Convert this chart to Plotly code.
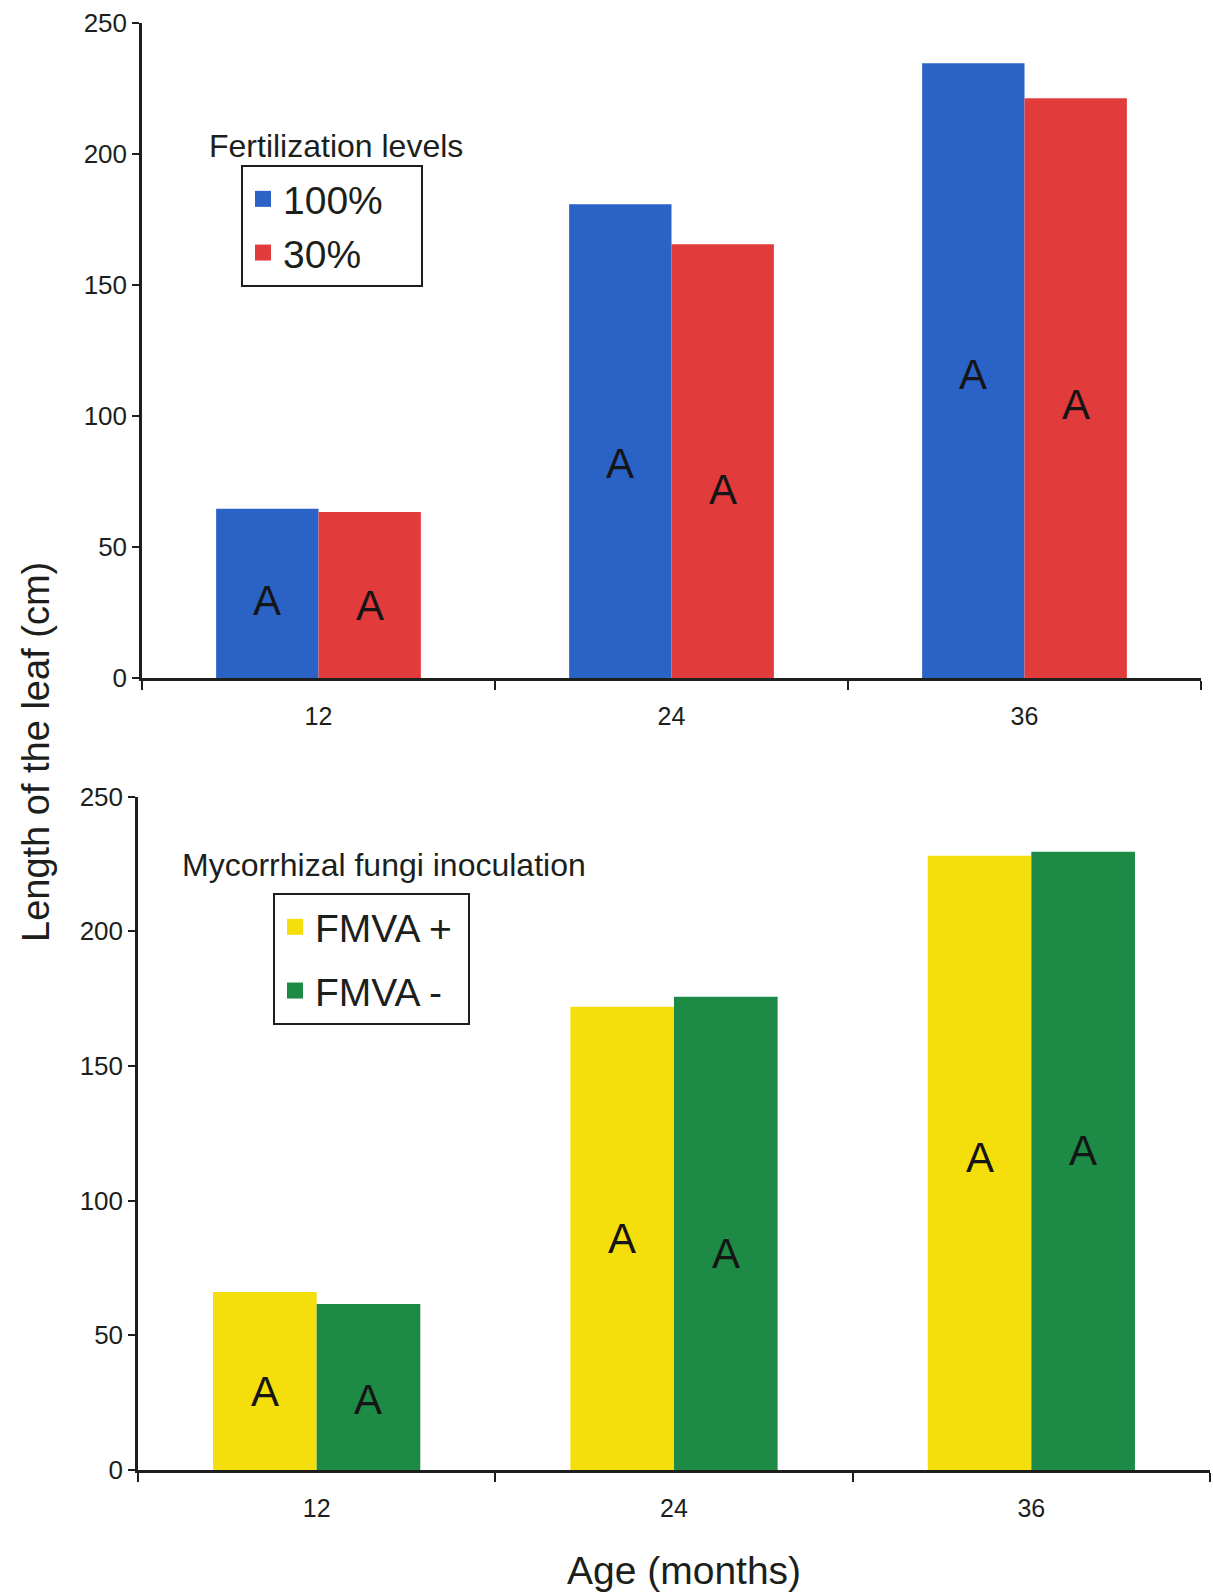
import plotly.graph_objects as go

# ---------------- data ----------------
ages = ["12", "24", "36"]

fert_100 = [64.6, 180.7, 234.5]
fert_30 = [63.3, 165.5, 221.2]
fert_100_letters = ["A", "A", "A"]
fert_30_letters = ["A", "A", "A"]
fert_100_letter_y = [29.6, 82.0, 115.8]
fert_30_letter_y = [27.7, 71.9, 104.2]

fmva_pos = [66.1, 172.0, 228.1]
fmva_neg = [61.6, 175.7, 229.6]
fmva_pos_letters = ["A", "A", "A"]
fmva_neg_letters = ["A", "A", "A"]
fmva_pos_letter_y = [29.3, 86.0, 116.2]
fmva_neg_letter_y = [26.3, 80.3, 118.5]

y_ticks = [0, 50, 100, 150, 200, 250]

# ---------------- style ----------------
FONT = "Liberation Sans, Arial, sans-serif"
INK = "#1c1f1c"
W, H = 1213, 1595
BAR_GAP = 0.42
HALF = (1 - BAR_GAP) / 4  # centre offset of each bar within its group

series = [
    ("100%\u00a0\u00a0\u00a0", fert_100, "#2a62c6", "x", "y", "legend"),
    ("30%", fert_30, "#e23b3c", "x", "y", "legend"),
    ("FMVA +\u00a0", fmva_pos, "#f4df0c", "x2", "y2", "legend2"),
    ("FMVA -", fmva_neg, "#1d8a45", "x2", "y2", "legend2"),
]

fig = go.Figure()
for name, vals, col, xa, ya, lg in series:
    fig.add_trace(go.Bar(x=ages, y=vals, name=name, marker=dict(color=col, line=dict(width=0)),
                         xaxis=xa, yaxis=ya, showlegend=False))
# legend entries (larger square swatches)
for k, (name, vals, col, xa, ya, lg) in enumerate(series):
    fig.add_trace(go.Scatter(x=[None], y=[None], mode="markers", name=name,
                             marker=dict(symbol="square", size=20, color=col),
                             xaxis=xa, yaxis=ya, legend=lg, legendgroup=f"g{k}", showlegend=True,
                             hoverinfo="skip"))

annotations = []
for letters, ys, off, xr, yr in [
    (fert_100_letters, fert_100_letter_y, -HALF, "x", "y"),
    (fert_30_letters, fert_30_letter_y, HALF, "x", "y"),
    (fmva_pos_letters, fmva_pos_letter_y, -HALF, "x2", "y2"),
    (fmva_neg_letters, fmva_neg_letter_y, HALF, "x2", "y2"),
]:
    for i, (t, yv) in enumerate(zip(letters, ys)):
        annotations.append(dict(x=i + off, y=yv, xref=xr, yref=yr, text=t, showarrow=False,
                                xanchor="center", yanchor="middle",
                                font=dict(family=FONT, size=42, color="#151515")))

# titles
annotations += [
    dict(x=336 / W, y=1 - 146 / H, xref="paper", yref="paper", text="Fertilization levels",
         xanchor="center", yanchor="middle", showarrow=False, font=dict(family=FONT, size=32, color=INK)),
    dict(x=384 / W, y=1 - 865 / H, xref="paper", yref="paper", text="Mycorrhizal fungi inoculation",
         xanchor="center", yanchor="middle", showarrow=False, font=dict(family=FONT, size=32, color=INK)),
    dict(x=36 / W, y=1 - 752 / H, xref="paper", yref="paper", text="Length of the leaf (cm)",
         xanchor="center", yanchor="middle", textangle=-90, showarrow=False,
         font=dict(family=FONT, size=38, color=INK)),
    dict(x=684 / W, y=1 - 1570 / H, xref="paper", yref="paper", text="Age (months)",
         xanchor="center", yanchor="middle", showarrow=False, font=dict(family=FONT, size=39, color=INK)),
]

xaxis_common = dict(type="category", showline=True, linecolor=INK, linewidth=2.5, ticks="outside",
                    tickson="boundaries", ticklen=9, tickwidth=2, tickcolor=INK, showgrid=False,
                    zeroline=False, tickfont=dict(family=FONT, size=25, color=INK), ticklabelstandoff=14,
                    automargin=False, fixedrange=True)
yaxis_common = dict(range=[0, 250], tickvals=y_ticks, showline=True, linecolor=INK, linewidth=2.5,
                    ticks="outside", ticklen=7, tickwidth=2, tickcolor=INK, showgrid=False,
                    zeroline=False, automargin=False, fixedrange=True,
                    tickfont=dict(family=FONT, size=26, color=INK))

legend_common = dict(bordercolor=INK, borderwidth=2, bgcolor="rgba(255,255,255,0)",
                     font=dict(family=FONT, size=39, color=INK), xanchor="left", yanchor="top",
                     tracegroupgap=0, itemclick=False, itemdoubleclick=False)

fig.update_layout(
    width=W, height=H,
    margin=dict(l=0, r=0, t=0, b=0),
    paper_bgcolor="white", plot_bgcolor="white",
    barmode="group", bargap=BAR_GAP, bargroupgap=0,
    xaxis=dict(domain=[142 / W, 1201 / W], anchor="y", **xaxis_common),
    yaxis=dict(domain=[1 - 678 / H, 1 - 22.7 / H], anchor="x", **yaxis_common),
    xaxis2=dict(domain=[138 / W, 1210 / W], anchor="y2", **xaxis_common),
    yaxis2=dict(domain=[1 - 1470 / H, 1 - 796.7 / H], anchor="x2", **yaxis_common),
    legend=dict(x=241 / W, y=1 - 165 / H, **legend_common),
    legend2=dict(x=273 / W, y=1 - 893 / H, **{**legend_common, "tracegroupgap": 10}),
    annotations=annotations,
    showlegend=True,
)

fig.write_html("out.html", config={"displayModeBar": False},
               post_script="document.body.style.margin='0';document.body.style.overflow='hidden';")
